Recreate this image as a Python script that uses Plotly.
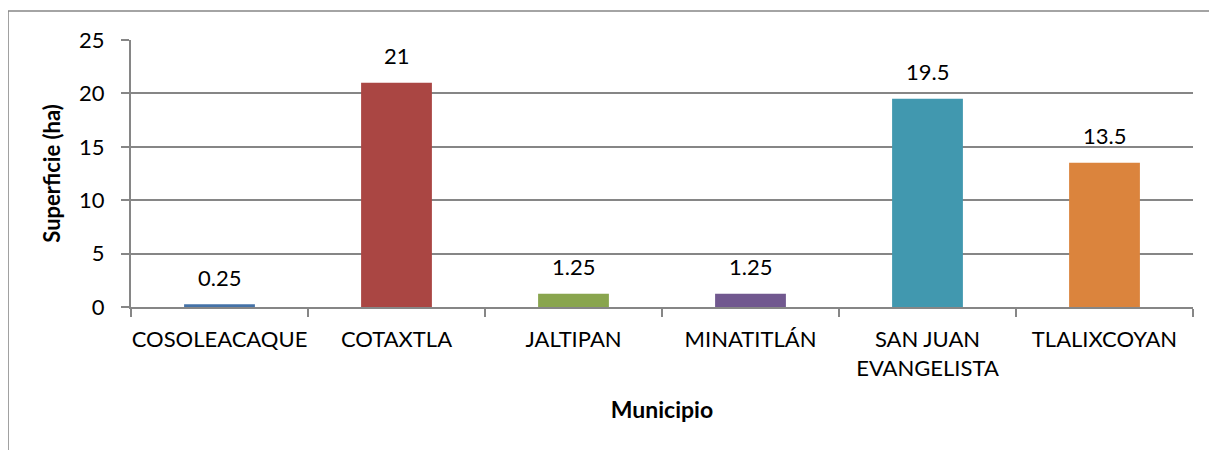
import plotly.graph_objects as go

# Data
municipios = ['COSOLEACAQUE', 'COTAXTLA', 'JALTIPAN', 'MINATITLÁN',
              'SAN JUAN<br>EVANGELISTA', 'TLALIXCOYAN']
superficie = [0.25, 21, 1.25, 1.25, 19.5, 13.5]
etiquetas = ['0.25', '21', '1.25', '1.25', '19.5', '13.5']
colores = ['#4572A7', '#AA4643', '#89A54E', '#71588F', '#4198AF', '#DB843D']
y_ticks = [0, 5, 10, 15, 20, 25]

font_family = 'Lato, Carlito, Calibri, sans-serif'
grid_color = '#868686'

fig = go.Figure()
fig.add_trace(go.Bar(
    x=municipios,
    y=superficie,
    marker=dict(color=colores, line=dict(width=0)),
    showlegend=False,
    hoverinfo='x+y',
))

# Data labels above the bars
for m, v, t in zip(municipios, superficie, etiquetas):
    fig.add_annotation(x=m, y=v, text=t, showarrow=False,
                       yanchor='middle', yshift=27,
                       font=dict(family=font_family, size=22, color='#000000'))

# Outer chart border (Excel style)
fig.add_shape(type='rect', xref='paper', yref='paper',
              x0=-0.1158, y0=-0.6, x1=1.05, y1=1.1086,
              line=dict(color=grid_color, width=1.5), layer='below')

# page body has an 8px margin, so the figure is sized and offset for that
fig.update_layout(
    width=1209, height=442,
    margin=dict(l=123, r=24, t=32, b=143),
    paper_bgcolor='white', plot_bgcolor='white',
    bargap=0.6,
    font=dict(family=font_family, size=22, color='#000000'),
)

fig.update_xaxes(
    title=dict(text='<b>Municipio</b>', font=dict(size=23), standoff=22),
    showline=True, linecolor=grid_color, linewidth=2,
    ticks='outside', tickson='boundaries', ticklen=8, tickcolor=grid_color, tickwidth=2,
    tickangle=0, ticklabelstandoff=12,
    showgrid=False, automargin=False,
    tickfont=dict(size=22),
)

fig.update_yaxes(
    title=dict(text='<b>Superficie (ha)</b>', font=dict(size=22), standoff=12),
    range=[0, 25], tickvals=y_ticks,
    showline=True, linecolor=grid_color, linewidth=2,
    ticks='outside', ticklen=8, tickcolor=grid_color, tickwidth=2,
    ticklabelstandoff=12,
    showgrid=True, gridcolor=grid_color, gridwidth=2,
    zeroline=False, automargin=False,
    tickfont=dict(size=22),
)

fig.write_html('out.html')
